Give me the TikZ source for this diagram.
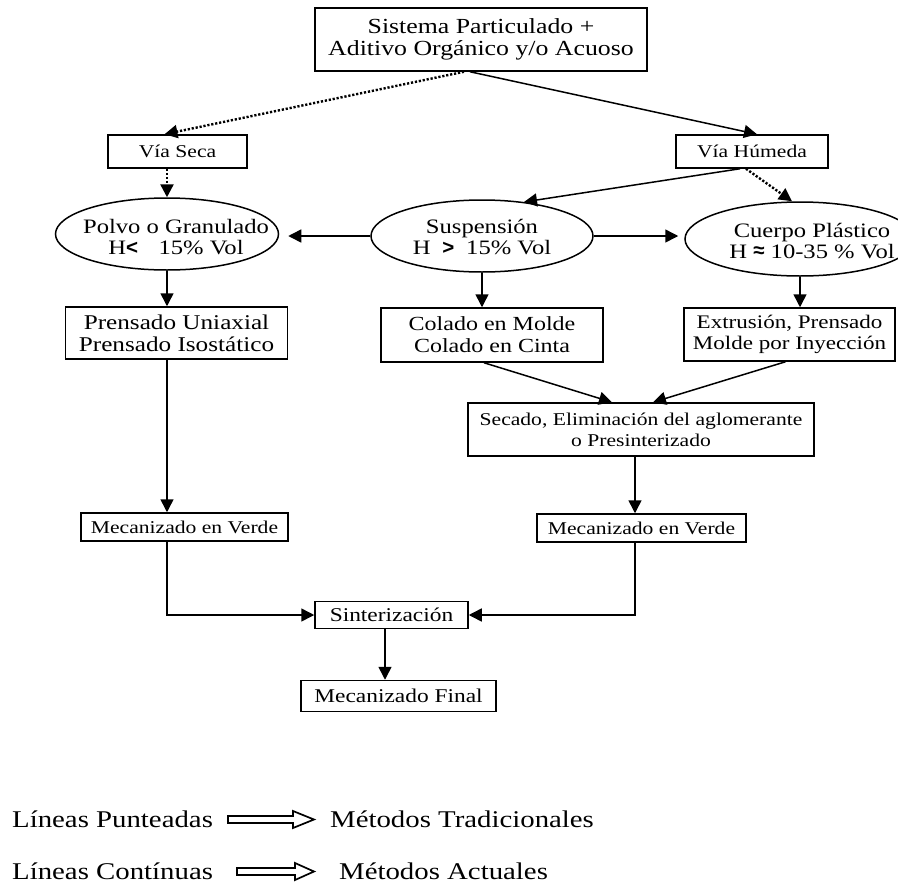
\documentclass[tikz,border=0pt]{standalone}
\usepackage{fontspec}
\setmainfont[FakeStretch=1.2]{Liberation Serif}
\newfontfamily\symfont{Liberation Sans}
\usetikzlibrary{arrows.meta,calc,shapes.geometric}

\tikzset{
  stepbox/.style={draw, line width=1.5pt, inner sep=0pt, align=center,
    font=\fontsize{18}{21}\selectfont},
  stepoval/.style={draw, ellipse, line width=1.5pt, inner sep=0pt,
    minimum height=72pt},
  ovaltext/.style={align=center, inner sep=0pt, font=\fontsize{20.5}{21}\selectfont},
  flow/.style={line width=1.5pt, -{Triangle[length=13pt,width=13pt]}},
  oldflow/.style={line width=2.4pt, dash pattern=on 2.2pt off 1.8pt,
    -{Triangle[length=13pt,width=13pt]}},
  legendtext/.style={anchor=west, inner sep=0pt, font=\fontsize{24}{26}\selectfont},
  hollow/.style={draw, line width=1.7pt, fill=white, line join=miter}
}
\newcommand{\bigsym}[1]{{\symfont\bfseries #1}}

\begin{document}
\begin{tikzpicture}[x=1pt,y=-1pt]
\useasboundingbox (0,0) rectangle (898,884);

% process steps
\node[stepbox, minimum width=332pt, minimum height=63pt,
  font=\fontsize{21.5}{22}\selectfont] (top) at (481,39.5)
  {Sistema Particulado +\\Aditivo Orgánico y/o Acuoso};
\node[stepbox, minimum width=139pt, minimum height=33pt] (seca) at (177.5,151.5) {Vía Seca};
\node[stepbox, minimum width=152pt, minimum height=33pt] (humeda) at (752,151.5) {Vía Húmeda};

\node[stepoval, minimum width=223pt,
  label={[ovaltext, xshift=9pt, yshift=-3pt]center:Polvo o Granulado\\H\bigsym{<}\quad 15\% Vol}]
  (polvo) at (167,234) {};
\node[stepoval, minimum width=222pt,
  label={[ovaltext, yshift=-1pt]center:Suspensión\\H\; \bigsym{>}\; 15\% Vol}]
  (susp) at (482,236) {};
\node[stepoval, minimum width=230pt, minimum height=74pt,
  label={[ovaltext, xshift=12pt, yshift=-2pt]center:Cuerpo Plástico\\H \raisebox{1pt}{\bigsym{≈}} 10-35 \% Vol}]
  (cuerpo) at (800,239) {};

\node[stepbox, minimum width=222pt, minimum height=52pt,
  font=\fontsize{21}{22}\selectfont] (prensado) at (176.5,333)
  {Prensado Uniaxial\\Prensado Isostático};
\node[stepbox, minimum width=222pt, minimum height=54pt,
  font=\fontsize{20}{22}\selectfont] (colado) at (492,335)
  {Colado en Molde\\Colado en Cinta};
\node[stepbox, minimum width=211pt, minimum height=53pt,
  font=\fontsize{19.2}{21}\selectfont] (extr) at (789.5,334.5)
  {Extrusión, Prensado\\Molde por Inyección};
\node[stepbox, minimum width=346pt, minimum height=53pt] (secado) at (641,429.5)
  {Secado, Eliminación del aglomerante\\o Presinterizado};

\node[stepbox, minimum width=207pt, minimum height=28pt] (mecL) at (184.5,527) {Mecanizado en Verde};
\node[stepbox, minimum width=209pt, minimum height=28pt] (mecR) at (641.5,528) {Mecanizado en Verde};
\node[stepbox, minimum width=153pt, minimum height=27pt,
  font=\fontsize{19.5}{21}\selectfont] (sinter) at (391.5,615) {Sinterización};
\node[stepbox, minimum width=195pt, minimum height=31pt,
  font=\fontsize{19.5}{21}\selectfont] (final) at (398.5,696) {Mecanizado Final};

% connectors
\draw[oldflow] ([xshift=-17pt]top.south) -- ([xshift=-13pt]seca.north);
\draw[flow] ([xshift=-11pt]top.south) -- ([xshift=5pt]humeda.north);
\draw[oldflow] (seca.south -| polvo.north) -- (polvo.north);
\draw[flow] ([xshift=-12pt]humeda.south) -- (susp.39);
\draw[oldflow] ([xshift=-6pt]humeda.south) -- ([xshift=-8pt]cuerpo.north);
\draw[flow] (susp.west) -- ([xshift=9pt]polvo.east |- susp.west);
\draw[flow] (susp.east) -- ([xshift=-6pt]cuerpo.west |- susp.east);

\draw[flow] (polvo.south) -- (polvo.south |- prensado.north);
\draw[flow] (susp.south) -- (susp.south |- colado.north);
\draw[flow] (cuerpo.south) -- (cuerpo.south |- extr.north);

\draw[flow] ([xshift=-8pt]colado.south) -- ([xshift=-29pt]secado.north);
\draw[flow] ([xshift=-4pt]extr.south) -- ([xshift=12pt]secado.north);

\draw[flow] (polvo.south |- prensado.south) -- (polvo.south |- mecL.north);
\draw[flow] ([xshift=-6pt]secado.south) -- ([xshift=-6pt]secado.south |- mecR.north);

\draw[flow] (polvo.south |- mecL.south) |- (sinter.west);
\draw[flow] ([xshift=-6pt]secado.south |- mecR.south) |- (sinter.east);
\draw[flow] ([xshift=-6.5pt]sinter.south) -- ([xshift=-6.5pt]sinter.south |- final.north);

% legend
\node[legendtext] (lp) at (12,819) {Líneas Punteadas};
\node[legendtext] (mt) at (330,819) {Métodos Tradicionales};
\node[legendtext] (lc) at (12,871) {Líneas Contínuas};
\node[legendtext] (ma) at (339,871) {Métodos Actuales};

\draw[hollow] (228,816) -- (293,816) -- (293,811) -- (314,819.5) -- (293,828)
  -- (293,823) -- (228,823) -- cycle;
\draw[hollow] (237,868) -- (295,868) -- (295,863) -- (314,871.5) -- (295,880)
  -- (295,875) -- (237,875) -- cycle;
\end{tikzpicture}
\end{document}
